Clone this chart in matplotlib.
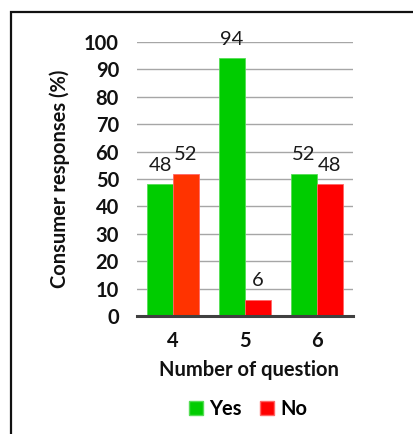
import matplotlib
matplotlib.use("Agg")
import matplotlib.pyplot as plt
from matplotlib.patches import Rectangle, Patch
import numpy as np

plt.rcParams['font.family'] = ['Lato', 'DejaVu Sans']

questions = ["4", "5", "6"]
yes_values = [48, 94, 52]
no_values = [52, 6, 48]
series_names = ["Yes", "No"]
yes_color = "#00CC00"
no_colors = ["#FF3300", "#FF0000", "#FF0000"]

FS = 14.5

fig = plt.figure(figsize=(4.14, 4.34), dpi=100)
fig.patch.set_facecolor("white")

# outer frame running off the right and bottom edges
fig.patches.append(Rectangle((11.5 / 414, -0.1), 1.2, 1 - 11.5 / 434 + 0.1,
                             transform=fig.transFigure, fill=False,
                             edgecolor="#111111", linewidth=1.6, zorder=0))

ax = fig.add_axes([137 / 414, 1 - 316 / 434, 216 / 414, 274 / 434])
x = np.arange(len(questions))
w = 0.36
yes_bars = ax.bar(x - w / 2, yes_values, w, color=yes_color,
                  edgecolor="#55DD55", linewidth=0.6, zorder=3)
no_bars = ax.bar(x + w / 2, no_values, w, color=no_colors,
                 edgecolor="#FF6666", linewidth=0.6, zorder=3)

for bars, vals in ((yes_bars, yes_values), (no_bars, no_values)):
    for b, v in zip(bars, vals):
        ax.annotate(f"{v}", (b.get_x() + b.get_width() / 2, v),
                    xytext=(0, 10), textcoords="offset points",
                    ha="center", va="baseline", fontsize=FS, color="#1A1A1A")

ax.set_xlim(-0.5, 2.5)
ax.set_ylim(0, 100)
ax.set_yticks(np.arange(0, 101, 10))
ax.set_xticks(x)
ax.set_xticklabels(questions)
ax.yaxis.grid(True, color="#A6A6A6", linewidth=1.0, zorder=0)
ax.set_axisbelow(True)
for s in ("top", "right", "left"):
    ax.spines[s].set_visible(False)
ax.spines["bottom"].set_color("#404040")
ax.spines["bottom"].set_linewidth(2.2)
ax.spines["bottom"].set_zorder(4)
ax.tick_params(axis="both", length=0, labelsize=FS, labelcolor="#111111")
ax.tick_params(axis="y", pad=13)
ax.tick_params(axis="x", pad=11)
for lbl in ax.get_xticklabels() + ax.get_yticklabels():
    lbl.set_fontweight("bold")

ax.set_ylabel("Consumer responses (%)", fontsize=FS, fontweight="bold", color="#111111")
ax.yaxis.set_label_coords(-0.31, 0.5)
ax.set_xlabel("Number of question", fontsize=FS, fontweight="bold", color="#111111")
ax.xaxis.set_label_coords(0.52, -0.16)

handles = [Patch(facecolor=yes_color, edgecolor="#55DD55"),
           Patch(facecolor="#FF0000", edgecolor="#FF6666")]
fig.legend(handles, series_names, loc="center", bbox_to_anchor=(248 / 414, 1 - 409 / 434),
           ncol=2, frameon=False, handlelength=0.7, handleheight=0.7,
           handletextpad=0.3, columnspacing=0.9,
           prop={"weight": "bold", "size": FS})

fig.savefig("out.png", dpi=100, facecolor="white")
